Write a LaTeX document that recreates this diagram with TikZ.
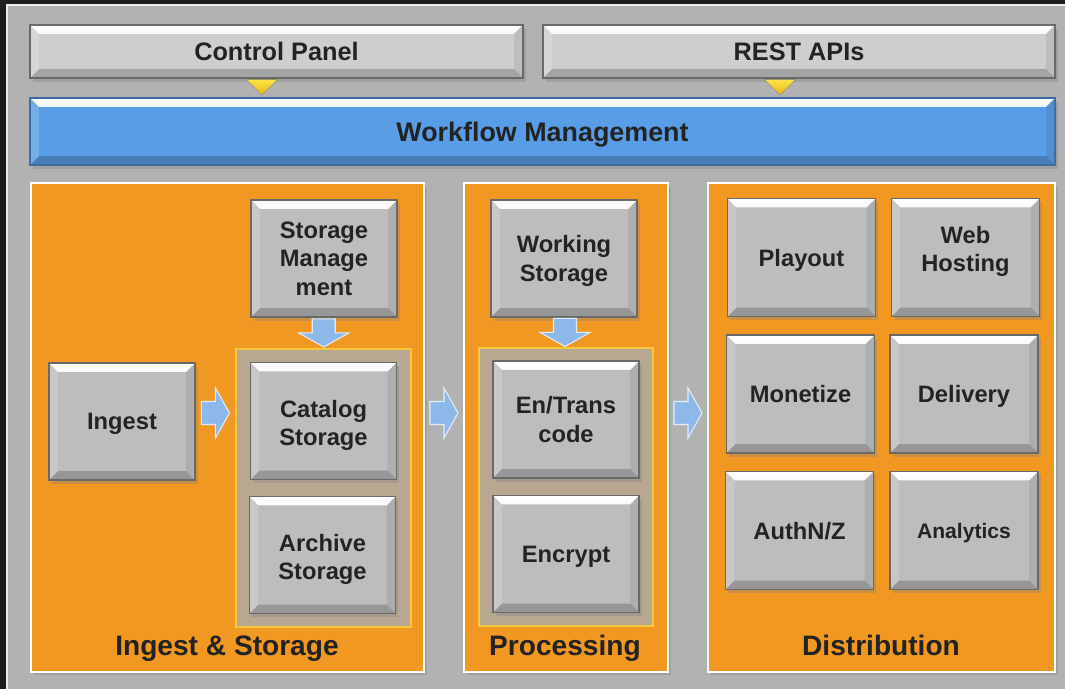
\documentclass[tikz,border=0pt]{standalone}
\usepackage{fontspec}
\setmainfont{Liberation Sans}
\usetikzlibrary{shadows,calc}
\definecolor{framedark}{RGB}{30,30,30}
\definecolor{bggray}{RGB}{178,178,178}
\definecolor{btngray}{RGB}{206,206,206}
\definecolor{tilegray}{RGB}{189,189,189}
\definecolor{tileedge}{RGB}{105,105,105}
\definecolor{wfblue}{RGB}{89,157,230}
\definecolor{panelorange}{RGB}{241,152,35}
\definecolor{grpfill}{RGB}{185,168,145}
\definecolor{grpedge}{RGB}{246,200,60}
\definecolor{arrblue}{RGB}{141,185,234}
\definecolor{txtdark}{RGB}{35,35,35}
\tikzset{
  bevel/.style={path picture={
    \shade[top color=white,bottom color=#1]
      (path picture bounding box.north west) -- (path picture bounding box.north east)
      -- ([shift={(-5pt,-5pt)}]path picture bounding box.north east)
      -- ([shift={(5pt,-5pt)}]path picture bounding box.north west) -- cycle;
    \fill[black,opacity=.2]
      (path picture bounding box.south west) -- (path picture bounding box.south east)
      -- ([shift={(-5pt,5pt)}]path picture bounding box.south east)
      -- ([shift={(5pt,5pt)}]path picture bounding box.south west) -- cycle;
    \fill[white,opacity=.18]
      (path picture bounding box.north west) -- (path picture bounding box.south west)
      -- ([shift={(5pt,5pt)}]path picture bounding box.south west)
      -- ([shift={(5pt,-5pt)}]path picture bounding box.north west) -- cycle;
    \fill[black,opacity=.08]
      (path picture bounding box.north east) -- (path picture bounding box.south east)
      -- ([shift={(-5pt,5pt)}]path picture bounding box.south east)
      -- ([shift={(-5pt,-5pt)}]path picture bounding box.north east) -- cycle;
  }},
  shadowed/.style={drop shadow={shadow xshift=1.5pt,shadow yshift=-2pt,opacity=.35}},
  tile/.style={shadowed,bevel=tilegray,draw=tileedge,line width=.8pt,fill=tilegray,
    text=txtdark,minimum width=2.92cm,minimum height=2.34cm,align=center,
    font=\fontsize{13.5}{16.2}\selectfont\bfseries},
  dtile/.style={tile,minimum width=2.96cm,minimum height=2.36cm},
  oneline/.style={text depth=0pt},
  topbtn/.style={shadowed,bevel=btngray,draw=tileedge,line width=.8pt,fill=btngray,oneline,
    text=txtdark,minimum height=1.06cm,font=\fontsize{14.4}{17}\selectfont\bfseries},
  wfbar/.style={shadowed,bevel=wfblue,draw=wfblue!70!black,line width=.8pt,fill=wfblue,oneline,
    text=txtdark,minimum width=20.5cm,minimum height=1.34cm,font=\fontsize{15.3}{18}\selectfont\bfseries},
  panel/.style={shadowed,draw=white,line width=1.4pt,fill=panelorange,minimum height=9.78cm},
  group/.style={draw=grpedge,line width=.9pt,fill=grpfill,minimum height=5.56cm},
  plabel/.style={anchor=base,text=txtdark,font=\fontsize{16}{19}\selectfont\bfseries},
  marker/.style={top color={rgb,255:red,252;green,228;blue,70},bottom color={rgb,255:red,232;green,182;blue,20}},
  barrow/.pic={\draw[fill=arrblue,draw=white!75!arrblue,line width=.6pt]
    (-14,11.5) -- (0,11.5) -- (0,25) -- (14,0) -- (0,-25) -- (0,-11.5) -- (-14,-11.5) -- cycle;}
}
\begin{document}
\begin{tikzpicture}[x=0.02cm,y=-0.02cm,semithick]
\useasboundingbox (0,0) rectangle (1065,689);
\fill[framedark] (0,0) rectangle (1065,689);
\draw[fill=bggray,draw=white!75!bggray,line width=.6pt] (7,5) rectangle (1068,692);
\node[topbtn,minimum width=9.86cm] (ctrl) at (276.5,51.5) {Control Panel};
\node[topbtn,minimum width=10.24cm] (rest) at (799,51.5) {REST APIs};
\node[wfbar] (wfm) at (542.5,131.5) {Workflow Management};
\fill[marker] ($(ctrl.south)+(-29.5,1)$) -- ++(30,0) -- ++(-15,15) -- cycle;
\fill[marker] ($(rest.south)+(-34,1)$) -- ++(30,0) -- ++(-15,15) -- cycle;
\node[panel,minimum width=7.86cm] (panA) at (227.5,427.5) {};
\node[panel,minimum width=4.08cm] (panB) at (566,427.5) {};
\node[panel,minimum width=6.94cm] (panC) at (881.5,427.5) {};
\node[plabel] (labA) at (227,655) {Ingest \& Storage};
\node[plabel] (labB) at (565,655) {Processing};
\node[plabel] (labC) at (881,655) {Distribution};
\node[group,minimum width=3.5cm] (grpA) at (323.5,488) {};
\node[group,minimum width=3.48cm] (grpB) at (566,487) {};
\node[tile] (smgmt) at (324,258.5) {Storage\\Manage\\ment};
\node[tile,oneline] (ingest) at (122,421.5) {Ingest};
\node[tile,text height=27.9pt,text depth=0pt] (catalog) at (323.5,421) {Catalog\\Storage};
\node[tile,text height=27.9pt,text depth=0pt] (archive) at (322.5,555) {Archive\\Storage};
\node[tile,text depth=0pt] (working) at (564,258.5) {Working\\Storage};
\node[tile] (entrans) at (566,419.5) {En/Trans\\code};
\node[tile,oneline] (encrypt) at (566,554) {Encrypt};
\node[dtile,oneline] (playout) at (801.5,257.5) {Playout};
\node[dtile,text depth=9.6pt] (webhost) at (965.5,257.5) {Web\\Hosting};
\node[dtile,oneline] (monetize) at (800.5,394) {Monetize};
\node[dtile,oneline] (delivery) at (964,394) {Delivery};
\node[dtile,oneline] (authnz) at (799.5,530.5) {AuthN/Z};
\node[dtile,oneline,font=\fontsize{12}{14}\selectfont\bfseries] (analytics) at (964,530.5) {Analytics};
\coordinate (arow) at (0,413);
\coordinate (m1) at ($(ingest.east)!.5!(grpA.west)$);
\coordinate (m2) at ($(panA.east)!.5!(panB.west)$);
\coordinate (m3) at ($(panB.east)!.5!(panC.west)$);
\pic at (m1|-arow) {barrow};
\pic at (m2|-arow) {barrow};
\pic at (m3|-arow) {barrow};
\pic[rotate=-90] at ($(smgmt.south)!.5!(grpA.north)$) {barrow};
\pic[rotate=-90] at ($(working.south)!.5!(grpB.north)$) {barrow};
\end{tikzpicture}
\end{document}
